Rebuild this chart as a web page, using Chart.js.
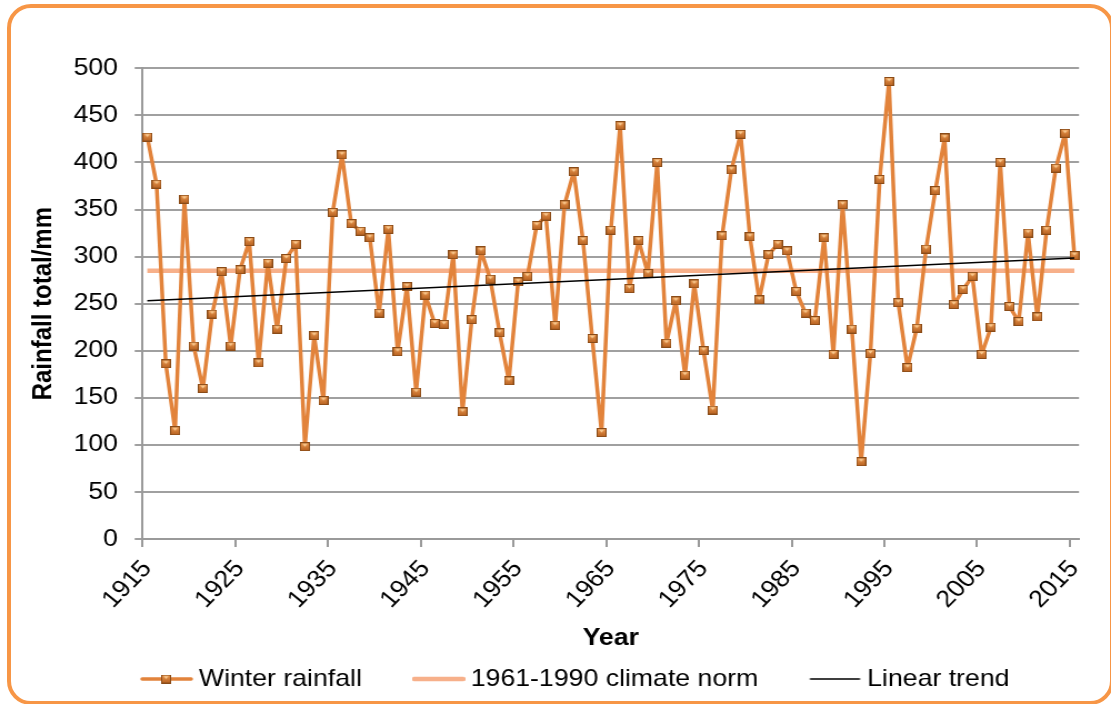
<!DOCTYPE html>
<html><head><meta charset="utf-8">
<script src="https://cdn.jsdelivr.net/npm/chart.js@4.4.1/dist/chart.umd.min.js"></script>
<style>
html,body{margin:0;padding:0;background:#fff;overflow:hidden;width:1111px;height:704px;}
#frame{position:absolute;left:7px;top:4px;width:1107px;height:701px;box-sizing:border-box;border:4px solid #F79646;border-radius:24px;}
#c{position:absolute;left:0;top:0;}
</style></head><body>
<div id="frame"></div>
<canvas id="c" width="1000" height="704" style="width:1111px;height:704px"></canvas>
<script>
// ---- data ----
const years = Array.from({length: 101}, (_, i) => String(1915 + i));
const tickYears = ['1915','1925','1935','1945','1955','1965','1975','1985','1995','2005','2015'];
const winterRainfall = [
  427, 377, 186, 115, 361, 205, 160, 239, 284, 205,
  286, 316, 187, 293, 223, 298, 313,  98, 216, 147,
  347, 408, 335, 327, 320, 240, 329, 199, 268, 156,
  259, 229, 228, 302, 135, 233, 306, 276, 219, 168,
  273, 279, 333, 343, 227, 355, 390, 317, 213, 113,
  328, 439, 266, 317, 282, 400, 208, 253, 174, 271,
  200, 137, 322, 392, 430, 321, 254, 302, 313, 306,
  263, 240, 232, 320, 196, 355, 223,  82, 197, 382,
  486, 251, 182, 224, 308, 370, 426, 249, 265, 279,
  196, 225, 400, 247, 231, 325, 236, 328, 394, 431,
  301
];
const normYears = ['1915', '2015'];
const normValues = [285, 285];
const trendYears = ['1915', '2015'];
const trendValues = [253, 298.5];
const seriesNames = ['Winter rainfall', '1961-1990 climate norm', 'Linear trend'];

// ---- styles ----
const FONT = "'Liberation Sans', Arial, sans-serif";
Chart.defaults.font.family = FONT;
Chart.defaults.color = '#000';

const rainColor = '#E2833B';
const normColor = '#F7B08A';
const trendColor = '#000000';

const marker = (() => {
  const c = document.createElement('canvas'); c.width = 9; c.height = 9;
  const g = c.getContext('2d');
  const grad = g.createLinearGradient(0, 0, 0, 9);
  grad.addColorStop(0, '#EE9A52'); grad.addColorStop(1, '#B45F1E');
  g.fillStyle = grad; g.fillRect(0, 0, 9, 9);
  g.strokeStyle = '#8A4B17'; g.lineWidth = 1; g.strokeRect(0.5, 0.5, 8, 8);
  g.fillStyle = 'rgba(255,215,160,0.85)';
  g.beginPath(); g.moveTo(2, 1.5); g.lineTo(7, 1.5); g.lineTo(4.5, 4.5); g.closePath(); g.fill();
  return c;
})();

function sample(color, width, withMarker) {
  const c = document.createElement('canvas'); c.width = 48; c.height = 12;
  const g = c.getContext('2d');
  g.strokeStyle = color; g.lineWidth = width; g.lineCap = 'round';
  g.beginPath(); g.moveTo(2, 6); g.lineTo(46, 6); g.stroke();
  if (withMarker) g.drawImage(marker, 19, 1.5);
  return c;
}
const samples = [sample(rainColor, 3.5, true), sample(normColor, 4.5, false), sample(trendColor, 1.6, false)];

const legendPlace = {
  id: 'legendPlace',
  afterLayout(chart) {
    const lg = chart.legend;
    if (!lg) return;
    lg.left = 81; lg.right = 1000; lg.width = lg.right - lg.left;
    lg.top = 615; lg.bottom = 704; lg.height = 89;
  }
};

new Chart(document.getElementById('c'), {
  type: 'line',
  data: {
    labels: years,
    datasets: [
      {
        label: seriesNames[0], data: winterRainfall, order: 2,
        borderColor: rainColor, borderWidth: 3.5, borderJoinStyle: 'round', borderCapStyle: 'round',
        pointStyle: marker, pointRadius: 5, backgroundColor: rainColor, tension: 0, fill: false
      },
      {
        label: seriesNames[1], data: normYears.map((x, i) => ({x, y: normValues[i]})), order: 3,
        borderColor: normColor, borderWidth: 4.5, pointRadius: 0, fill: false
      },
      {
        label: seriesNames[2], data: trendYears.map((x, i) => ({x, y: trendValues[i]})), order: 1,
        borderColor: trendColor, borderWidth: 1.6, pointRadius: 0, fill: false
      }
    ]
  },
  options: {
    responsive: false,
    devicePixelRatio: 1,
    animation: false,
    events: [],
    layout: { padding: { left: 20, right: 28.8, top: 68.3, bottom: 0 } },
    scales: {
      x: {
        type: 'category',
        offset: true,
        grid: {
          offset: true, drawOnChartArea: false, drawTicks: true, tickLength: 8, lineWidth: 2,
          color: (ctx) => (ctx.index % 10 === 0 ? '#9a9a9a' : 'rgba(0,0,0,0)')
        },
        border: { display: true, color: '#9a9a9a', width: 2 },
        ticks: {
          autoSkip: false, minRotation: 48, maxRotation: 48, padding: 8,
          font: { size: 24 }, color: '#000',
          callback: function (value) {
            const lab = this.getLabelForValue(value);
            return tickYears.includes(lab) ? lab : '';
          }
        },
        title: { display: true, text: 'Year', font: { size: 24, weight: 'bold' }, color: '#000', padding: { top: 0, bottom: 21 } },
        afterFit: (s) => { s.height = 135; }
      },
      y: {
        min: 0, max: 500,
        grid: { color: '#a0a0a0', lineWidth: 2, tickLength: 7.2, drawTicks: true },
        border: { display: true, color: '#9a9a9a', width: 2 },
        ticks: { stepSize: 50, padding: 15, font: { size: 24 }, color: '#000' },
        title: { display: true, text: 'Rainfall total/mm', font: { size: 24, weight: 'bold' }, color: '#000', padding: { top: 5, bottom: 0 } },
        afterFit: (s) => { s.width = 108.4; }
      }
    },
    plugins: {
      tooltip: { enabled: false },
      legend: {
        display: true, position: 'bottom', align: 'start', maxHeight: 30,
        labels: {
          usePointStyle: true, pointStyleWidth: 34, padding: 52,
          font: { size: 24 }, color: '#000',
          generateLabels: () => seriesNames.map((name, i) => ({
            text: name, pointStyle: samples[i], fillStyle: 'rgba(0,0,0,0)', strokeStyle: 'rgba(0,0,0,0)',
            lineWidth: 0, hidden: false, datasetIndex: i, fontColor: '#000'
          }))
        }
      }
    }
  },
  plugins: [legendPlace]
});
</script></body></html>
